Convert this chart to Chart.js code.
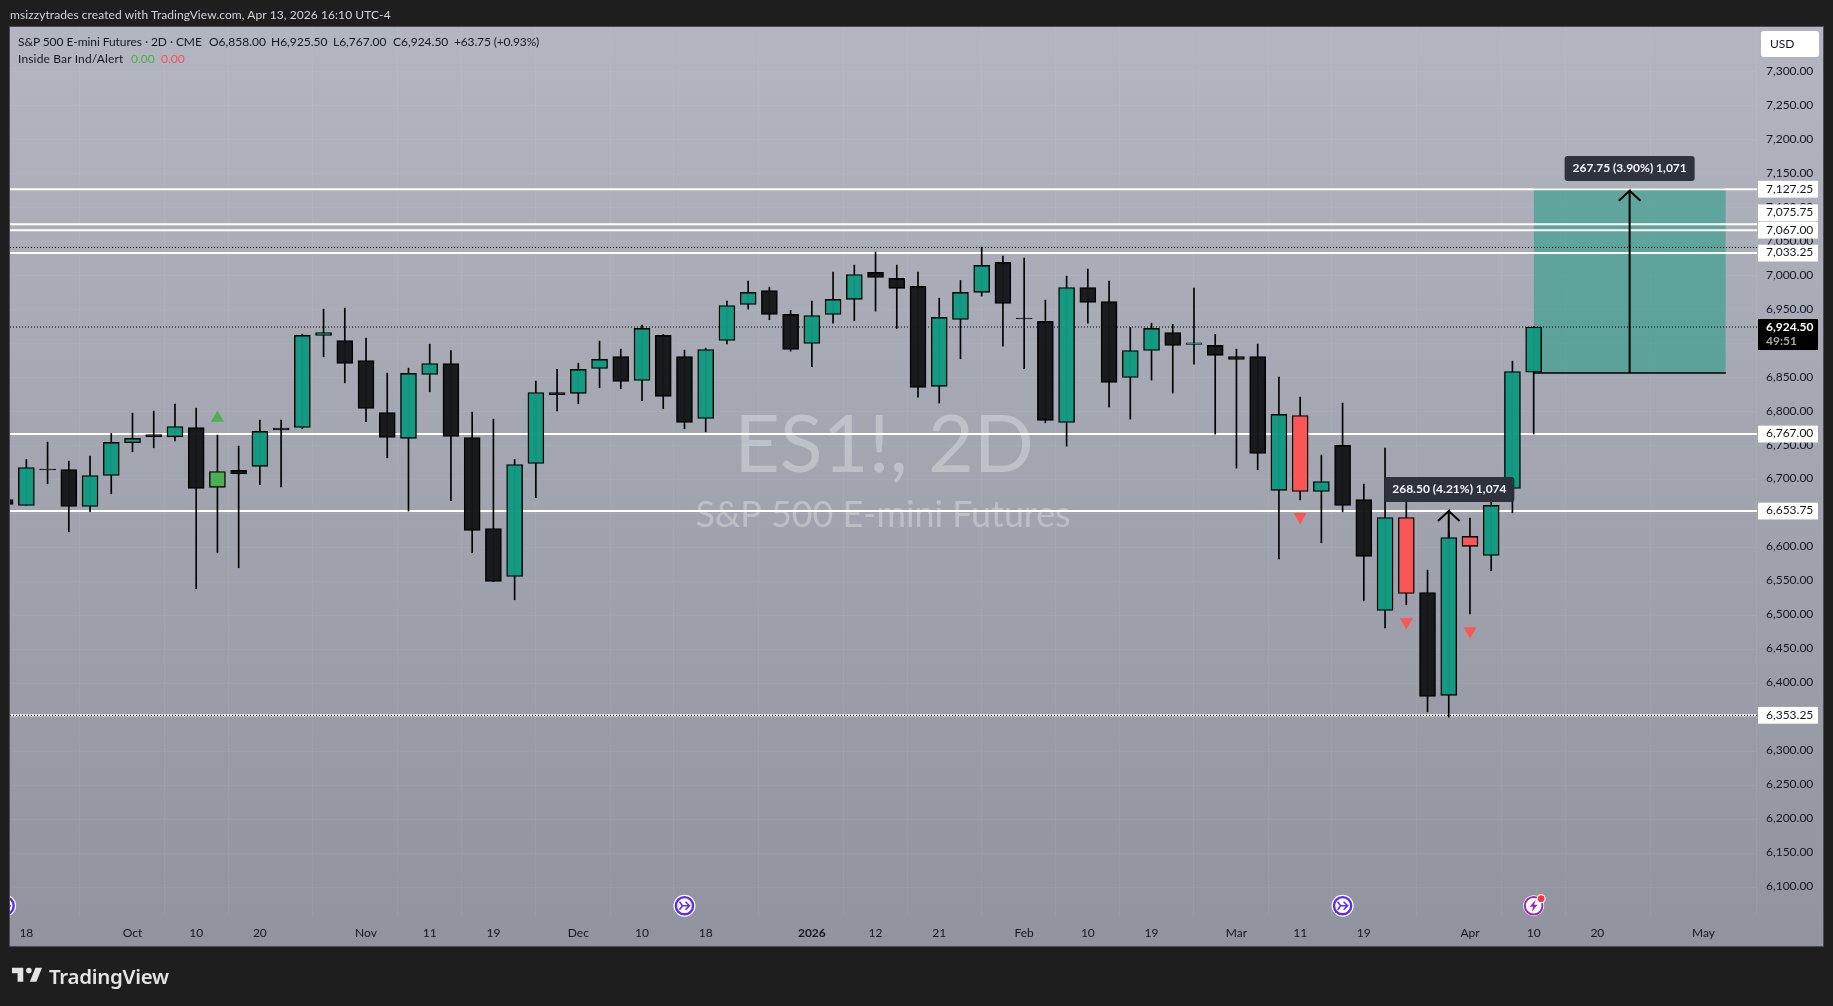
<!DOCTYPE html>
<html>
<head>
<meta charset="utf-8">
<title>ES1! 2D</title>
<script src="https://cdn.jsdelivr.net/npm/chart.js@4/dist/chart.umd.min.js"></script>
<style>
html, body { margin: 0; padding: 0; background: #1e1e1e; overflow: hidden; }
#wrap { position: relative; width: 1833px; height: 1006px; font-family: Lato, sans-serif; font-size: 12px; }
canvas { position: absolute; left: 0; top: 0; }
.t { position: absolute; white-space: pre; line-height: 16px; color: #131722; }
#caption { left: 10px; top: 7px; color: #d1d4dc; letter-spacing: 0.075px; }
#brand { left: 49px; top: 963px; color: #e4e4e4; font-family: "Noto Sans", sans-serif; font-size: 20.5px; line-height: 26px; font-weight: 600; letter-spacing: -0.3px; }
#logo { position: absolute; left: 9.6px; top: 962.4px; }
</style>
</head>
<body>
<div id="wrap">
  <canvas id="theChart" width="1833" height="1006"></canvas>
  <div class="t" id="caption">msizzytrades created with TradingView.com, Apr 13, 2026 16:10 UTC-4</div>
  <div class="t" style="left:18px;top:34px;letter-spacing:-0.07px">S&amp;P 500 E-mini Futures · 2D · CME</div>
  <div class="t" style="left:209px;top:34px">O6,858.00</div>
  <div class="t" style="left:271px;top:34px">H6,925.50</div>
  <div class="t" style="left:333px;top:34px">L6,767.00</div>
  <div class="t" style="left:393px;top:34px">C6,924.50</div>
  <div class="t" style="left:454px;top:34px;letter-spacing:-0.15px">+63.75 (+0.93%)</div>
  <div class="t" style="left:18px;top:51px;letter-spacing:0.15px">Inside Bar Ind/Alert</div>
  <div class="t" style="left:131px;top:51px;color:#4caf50">0.00</div>
  <div class="t" style="left:161px;top:51px;color:#f7525f">0.00</div>
  <svg id="logo" width="34" height="26.3" viewBox="0 0 36 28"><path fill="#e4e4e4" d="M14 6H2v6h6v9h6V6Zm14 15h-7l6-15h7l-6 15Zm-8-9a3 3 0 1 0 0-6 3 3 0 0 0 0 6Z"/></svg>
  <div class="t" id="brand">TradingView</div>
</div>
<script>
// candles, first one is the bar cut off by the left edge of the pane
var opens = [6670.8, 6662, 6715.6, 6714.9, 6660.5, 6706.1, 6754.2, 6766.4, 6763, 6776.7, 6688.5, 6713.5, 6719.4, 6775.8, 6776.7, 6912.1, 6904.7, 6875.3, 6798.8, 6760.6, 6854.7, 6870.9, 6762, 6628.1, 6557.5, 6723.8, 6828.2, 6826.8, 6863.5, 6881.2, 6845.9, 6912.1, 6881.2, 6790, 6904.7, 6957.7, 6978.3, 6943, 6900.3, 6943, 6965.1, 7004.8, 6996, 6984.2, 6837.1, 6935.6, 6975.4, 7019.5, 6937.7, 6932.7, 6784.1, 6982.7, 6962.1, 6850.3, 6890, 6916.5, 6898.9, 6897.4, 6881.2, 6881.2, 6684.1, 6794.4, 6682.6, 6750.3, 6670.8, 6507.5, 6644.3, 6534, 6382.5, 6616.4, 6588.4, 6687, 6858];
var highs = [6676, 6729.6, 6755.2, 6727.2, 6734.6, 6767.9, 6797.8, 6800.8, 6811.1, 6805.2, 6765.5, 6749.3, 6787.5, 6787.5, 6914, 6950.8, 6952.3, 6908.2, 6856.7, 6864, 6899.3, 6890, 6799.3, 6789, 6729.6, 6844.9, 6862.1, 6871.4, 6903.8, 6892, 6927.3, 6913.6, 6890.5, 6893.5, 6962.6, 6992, 6983.2, 6948.9, 6962.6, 7005.3, 7015.6, 7034.7, 7015.6, 7005.3, 6967, 6993, 7042, 7028.8, 7025.9, 6964.1, 6999.4, 7009.7, 6992, 6923.9, 6930.2, 6928.3, 6981.7, 6913.6, 6892, 6899.4, 6850.8, 6821.4, 6736.1, 6812.6, 6693.4, 6746.4, 6688, 6566.9, 6622, 6643.4, 6670.8, 6874.3, 6925.5];
var lows = [6655, 6662, 6693.9, 6623.2, 6652.7, 6679.1, 6740.9, 6746.8, 6757.1, 6539.4, 6592.4, 6570.3, 6692.4, 6689.4, 6774.8, 6880.7, 6842.4, 6785.1, 6732.1, 6653.6, 6829.2, 6668.9, 6592.4, 6550.2, 6523.2, 6673.3, 6801.2, 6811.6, 6835.1, 6833.6, 6816, 6804.2, 6774.8, 6770.4, 6899.8, 6950.8, 6935.2, 6889, 6866, 6930.2, 6933.7, 6947.9, 6922.4, 6821.4, 6812.6, 6877.8, 6970, 6896.4, 6863.1, 6783.6, 6749.3, 6930.2, 6806.7, 6789, 6846.4, 6827.3, 6869.9, 6767, 6716.9, 6714.5, 6583.5, 6670.3, 6607.1, 6652.7, 6521.7, 6482, 6515.9, 6358.4, 6350.6, 6502.6, 6565.9, 6651.2, 6767];
var closes = [6663.4, 6717.9, 6714.4, 6660.5, 6706.1, 6754.7, 6760.6, 6763, 6778.2, 6687, 6712, 6708.6, 6770.9, 6773.3, 6912.1, 6916.5, 6870.9, 6804.7, 6762, 6856.2, 6870.9, 6763.5, 6625.2, 6550.2, 6722.3, 6828.2, 6824.8, 6862.1, 6876.8, 6844.4, 6922.4, 6822.4, 6784.1, 6891.5, 6956.2, 6975.4, 6943, 6891.5, 6941.5, 6965.1, 7001.8, 6997.4, 6981.3, 6835.6, 6938.6, 6975.4, 7015.1, 6959.2, 6936.5, 6787, 6982.7, 6960.7, 6842.9, 6890, 6922.4, 6897.4, 6901.3, 6882.7, 6876.8, 6738.5, 6795.9, 6682.6, 6697.3, 6662, 6587, 6644.3, 6532.5, 6381, 6614.9, 6601.7, 6662, 6859.1, 6924.5];
var greenBars = [10];
var redBars = [61, 66, 69];

var tickBars = [1, 6, 9, 12, 17, 20, 23, 27, 30, 33, 38, 41, 44, 48, 51, 54, 58, 61, 64, 69, 72, 75, 80];
var tickLabels = ["18", "Oct", "10", "20", "Nov", "11", "19", "Dec", "10", "18", "2026", "12", "21", "Feb", "10", "19", "Mar", "11", "19", "Apr", "10", "20", "May"];
var priceTicks = [7300, 7250, 7200, 7150, 7100, 7050, 7000, 6950, 6900, 6850, 6800, 6750, 6700, 6650, 6600, 6550, 6500, 6450, 6400, 6350, 6300, 6250, 6200, 6150, 6100];

var levels = [7127.25, 7075.75, 7067, 7033.25, 6767, 6653.75, 6353.25];
var levelLabels = ["7,127.25", "7,075.75", "7,067.00", "7,033.25", "6,767.00", "6,653.75", "6,353.25"];
var levelLabelNudge = [0, -11.4, 0, 0, 0, 0, 0];
var dottedLevels = [7041.6, 6924.5, 6353.25];

var upMarkerBars = [10];
var upMarkerPrices = [6790.5];
var downMarkerBars = [61, 66, 69];
var downMarkerPrices = [6645.2, 6490.7, 6477.4];

var boxLeft = 72, boxRight = 81.05, boxTop = 7127.25, boxBottom = 6857;
var arrowBars = [76.52, 68];
var arrowTops = [7125, 6653.75];
var arrowBottoms = [6857, 6385.25];

var tagTexts = ["267.75 (3.90%) 1,071", "268.50 (4.21%) 1,074"];
var tagBars = [76.52, 68.03];
var tagPrices = [7157.6, 6685.5];

var eventBars = [0, 32, 63];
var flashBar = 72;

var xMin = 0.23, xMax = 82.52, yMin = 6058, yMax = 7365.9;
var FONT = 'Lato, sans-serif';
var TEAL = 'rgba(18,153,127,0.97)', BLACK = 'rgba(21,22,25,0.97)', RED = '#fb5656', GREEN = '#4caf50';

function bodyColor(o, i) {
    if (redBars.indexOf(i) >= 0) return RED;
    if (greenBars.indexOf(i) >= 0) return GREEN;
    return closes[i] >= o ? TEAL : BLACK;
}
function flatLine(value, width, color, dash, order) {
    return {
        type: 'line', data: [{ x: xMin, y: value }, { x: xMax, y: value }],
        borderColor: color, borderWidth: width, borderDash: dash, pointRadius: 0, order: order
    };
}
function arrowPath(i) {
    var x = arrowBars[i], top = arrowTops[i];
    return [{ x: x, y: arrowBottoms[i] }, { x: x, y: top }, { x: x - 0.51, y: top - 14.7 }, { x: x, y: top }, { x: x + 0.51, y: top - 14.7 }];
}

var datasets = [];
datasets.push({
    type: 'line', data: [{ x: boxLeft, y: boxTop }, { x: boxRight, y: boxTop }],
    borderColor: '#000', borderWidth: 1.5, pointRadius: 0, fill: { target: { value: boxBottom } },
    backgroundColor: 'rgba(18,153,127,0.5)', order: 12
});
datasets.push({
    type: 'line', data: [{ x: boxLeft, y: boxBottom }, { x: boxRight, y: boxBottom }],
    borderColor: '#000', borderWidth: 1.5, pointRadius: 0, order: 11
});
levels.forEach(function (v) { datasets.push(flatLine(v, 2, '#ffffff', [], 10)); });
dottedLevels.forEach(function (v) { datasets.push(flatLine(v, 1, '#000000', [1, 2], 9)); });
arrowBars.forEach(function (b, i) {
    datasets.push({ type: 'line', data: arrowPath(i), borderColor: '#000', borderWidth: 2, pointRadius: 0, tension: 0, order: 8 });
});
datasets.push({
    type: 'bar', grouped: false, barThickness: 1, backgroundColor: '#000',
    data: highs.map(function (h, i) { return { x: i, y: [lows[i], h] }; }), order: 6
});
datasets.push({
    type: 'bar', grouped: false, barThickness: 16, borderWidth: 1.4, borderColor: '#000', borderSkipped: false,
    backgroundColor: opens.map(bodyColor),
    data: opens.map(function (o, i) { return { x: i, y: [o, closes[i]] }; }), order: 5
});
datasets.push({
    type: 'scatter', pointStyle: 'triangle', pointRadius: 7.5, pointBorderWidth: 0, backgroundColor: GREEN,
    data: upMarkerBars.map(function (b, i) { return { x: b, y: upMarkerPrices[i] }; }), order: 4
});
datasets.push({
    type: 'scatter', pointStyle: 'triangle', pointRotation: 180, pointRadius: 7.5, pointBorderWidth: 0, backgroundColor: RED,
    data: downMarkerBars.map(function (b, i) { return { x: b, y: downMarkerPrices[i] }; }), order: 4
});

function roundBox(ctx, x, y, w, h, r, color) {
    ctx.fillStyle = color;
    ctx.beginPath();
    ctx.roundRect(x, y, w, h, r);
    ctx.fill();
}

var paneBack = {
    id: 'paneBack',
    beforeDraw: function (chart) {
        var ctx = chart.ctx;
        var g = ctx.createLinearGradient(0, 27, 0, 946);
        g.addColorStop(0, '#b3b6c1');
        g.addColorStop(1, '#91949e');
        ctx.save();
        ctx.fillStyle = g;
        ctx.fillRect(10, 27, 1813, 919);
        ctx.strokeStyle = '#4b4c4e';
        ctx.lineWidth = 1;
        ctx.strokeRect(9.5, 26.5, 1814, 920);
        ctx.restore();
    },
    beforeDatasetsDraw: function (chart) {
        var ctx = chart.ctx;
        ctx.save();
        ctx.textAlign = 'center';
        ctx.textBaseline = 'middle';
        ctx.fillStyle = 'rgba(255,255,255,0.3)';
        ctx.font = '79px ' + FONT;
        ctx.fillText('ES1!, 2D', 884, 447);
        ctx.font = '35.8px ' + FONT;
        ctx.fillText('S&P 500 E-mini Futures', 883, 515);
        ctx.restore();
    }
};

function drawEvent(ctx, x, y) {
    ctx.fillStyle = '#fff';
    ctx.beginPath(); ctx.arc(x, y, 11, 0, Math.PI * 2); ctx.fill();
    ctx.strokeStyle = '#5a2df5';
    ctx.lineWidth = 2.4;
    ctx.beginPath(); ctx.arc(x, y, 8.6, 0, Math.PI * 2); ctx.stroke();
    ctx.lineWidth = 1.6;
    ctx.beginPath();
    ctx.moveTo(x - 5, y - 4); ctx.lineTo(x - 2, y); ctx.lineTo(x + 5, y);
    ctx.moveTo(x + 1, y - 4); ctx.lineTo(x + 5, y); ctx.lineTo(x + 1, y + 4);
    ctx.moveTo(x - 2, y); ctx.lineTo(x - 5, y + 4);
    ctx.stroke();
}
function drawFlash(ctx, x, y) {
    ctx.fillStyle = '#fff';
    ctx.beginPath(); ctx.arc(x, y, 10.5, 0, Math.PI * 2); ctx.fill();
    ctx.strokeStyle = '#9c27b0';
    ctx.lineWidth = 2;
    ctx.beginPath(); ctx.arc(x, y, 8.8, 0, Math.PI * 2); ctx.stroke();
    ctx.fillStyle = '#9c27b0';
    ctx.beginPath();
    ctx.moveTo(x + 2, y - 6); ctx.lineTo(x - 4, y + 1); ctx.lineTo(x - 0.5, y + 1);
    ctx.lineTo(x - 2, y + 6); ctx.lineTo(x + 4, y - 1); ctx.lineTo(x + 0.5, y - 1);
    ctx.closePath(); ctx.fill();
    ctx.fillStyle = '#fff';
    ctx.beginPath(); ctx.arc(x + 7.5, y - 7, 4.5, 0, Math.PI * 2); ctx.fill();
    ctx.fillStyle = '#f23645';
    ctx.beginPath(); ctx.arc(x + 7.5, y - 7, 3.4, 0, Math.PI * 2); ctx.fill();
}

var overlays = {
    id: 'overlays',
    afterDraw: function (chart) {
        var ctx = chart.ctx, sx = chart.scales.x, sy = chart.scales.y;
        ctx.save();
        // events on the time axis
        ctx.save();
        ctx.beginPath(); ctx.rect(10, 27, 1813, 919); ctx.clip();
        eventBars.forEach(function (b) { drawEvent(ctx, sx.getPixelForValue(b), 905.7); });
        drawFlash(ctx, sx.getPixelForValue(flashBar), 905.7);
        ctx.restore();

        // price tags
        ctx.font = 'bold 12px ' + FONT;
        ctx.textAlign = 'center';
        ctx.textBaseline = 'middle';
        tagTexts.forEach(function (t, i) {
            var x = sx.getPixelForValue(tagBars[i]), y = sy.getPixelForValue(tagPrices[i]);
            roundBox(ctx, x - 65, y - 12.5, 130, 25, 3, 'rgba(42,46,57,0.97)');
            ctx.fillStyle = '#f0f3fa';
            ctx.fillText(t, x, y);
        });

        // level labels on the price scale
        ctx.font = '12px ' + FONT;
        ctx.textAlign = 'left';
        levels.forEach(function (v, i) {
            var y = sy.getPixelForValue(v) + levelLabelNudge[i];
            ctx.fillStyle = '#fff';
            ctx.fillRect(1758, y - 8.4, 60, 16.8);
            ctx.fillStyle = '#131722';
            ctx.fillText(levelLabels[i], 1766, y - 0.5);
        });

        // last price
        var ly = sy.getPixelForValue(closes[closes.length - 1]);
        ctx.fillStyle = '#000';
        ctx.fillRect(1758, ly - 8, 60, 31);
        ctx.font = 'bold 12px ' + FONT;
        ctx.fillStyle = '#fff';
        ctx.fillText('6,924.50', 1766, ly);
        ctx.fillStyle = '#a8a8a8';
        ctx.fillText('49:51', 1766, ly + 14);

        // currency button
        roundBox(ctx, 1761, 31, 58, 26, 3, '#fff');
        ctx.font = '12px ' + FONT;
        ctx.fillStyle = '#131722';
        ctx.fillText('USD', 1770, 44.5);
        ctx.restore();
    }
};

var chart = new Chart(document.getElementById('theChart').getContext('2d'), {
    type: 'bar',
    data: { datasets: datasets },
    plugins: [paneBack, overlays],
    options: {
        responsive: false,
        animation: false,
        layout: { padding: { left: 10, top: 27, right: 10, bottom: 60 } },
        plugins: { legend: { display: false }, tooltip: { enabled: false }, title: { display: false } },
        scales: {
            x: {
                type: 'linear', min: xMin, max: xMax, offset: false,
                afterFit: function (s) { s.height = 30; },
                afterBuildTicks: function (s) { s.ticks = tickBars.map(function (v) { return { value: v }; }); },
                border: { display: false },
                grid: { color: 'rgba(255,255,255,0.05)', drawTicks: false },
                ticks: {
                    autoSkip: false, maxRotation: 0, padding: 10, color: '#131722',
                    font: function (c) { return { family: FONT, size: 12, weight: c.tick && c.tick.label === '2026' ? 'bold' : 'normal' }; },
                    callback: function (v) { return tickLabels[tickBars.indexOf(v)]; }
                }
            },
            y: {
                type: 'linear', position: 'right', min: yMin, max: yMax,
                afterFit: function (s) { s.width = 66; },
                afterBuildTicks: function (s) { s.ticks = priceTicks.map(function (v) { return { value: v }; }); },
                border: { display: false },
                grid: { color: 'rgba(255,255,255,0.05)', drawTicks: false },
                ticks: {
                    autoSkip: false, padding: 9, labelOffset: -1, color: '#131722', font: { family: FONT, size: 12 },
                    callback: function (v) { return v.toLocaleString('en-US', { minimumFractionDigits: 2 }); }
                }
            }
        }
    }
});
</script>
</body>
</html>
